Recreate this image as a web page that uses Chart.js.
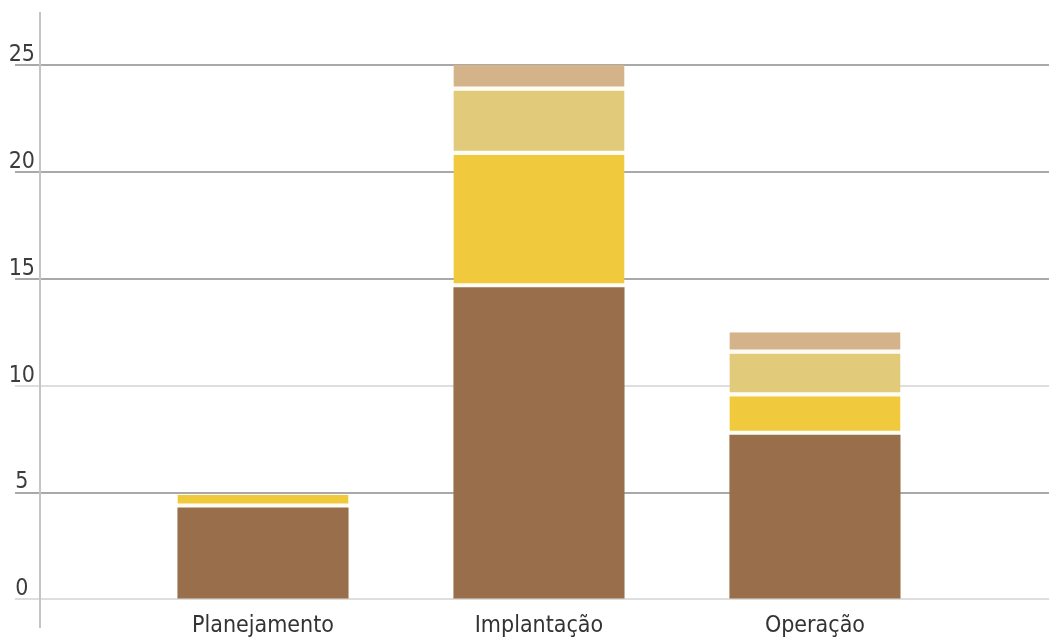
<!DOCTYPE html>
<html>
<head>
<meta charset="utf-8">
<script src="https://cdn.jsdelivr.net/npm/chart.js@4/dist/chart.umd.min.js"></script>
<style>
  html, body { margin: 0; padding: 0; background: #fff; }
  #wrap { width: 1049px; height: 640px; }
</style>
</head>
<body>
<div id="wrap"><canvas id="stackChart" width="1049" height="640"></canvas></div>
<script>
// Chart data
const categories = ["Planejamento", "Implantação", "Operação"];
const brownValues = [4.3, 14.6, 7.7];
const yellowValues = [0.6, 6.2, 1.8];
const khakiValues = [0, 3.0, 2.0];
const tanValues = [0, 1.2, 1.0];
const yTicks = [0, 5, 10, 15, 20, 25];

const FONT = "'Liberation Sans Narrow', 'DejaVu Sans Condensed', sans-serif";
const GAP = "#fffdf3";

/**
 * Turns a series into {x, y} points on the linear category scale
 */
const toPoints = (values) => values.map((v, i) => ({ x: i + 1, y: v }));

const segment = (label, values, color, gap) => ({
  label: label,
  data: toPoints(values),
  backgroundColor: color,
  borderColor: GAP,
  borderWidth: gap ? { top: 0, right: 0, left: 0, bottom: 4 } : 0,
  borderSkipped: false,
  barPercentage: 0.62,
  categoryPercentage: 1,
});

// lighter rules at 0 and 10, as in the source
const gridColor = (c) =>
  c.tick && (c.tick.value === 0 || c.tick.value === 10) ? "#dedede" : "#a9a9a9";

const ctx = document.getElementById("stackChart").getContext("2d");

new Chart(ctx, {
  type: "bar",
  data: {
    datasets: [
      segment("A", brownValues, "#986f4a", false),
      segment("B", yellowValues, "#f0c93c", true),
      segment("C", khakiValues, "#e1ca79", true),
      segment("D", tanValues, "#d4b38b", true),
    ],
  },
  options: {
    responsive: false,
    animation: false,
    layout: { padding: { top: 13, left: 0, right: 0, bottom: 0 } },
    scales: {
      x: {
        type: "linear",
        stacked: true,
        min: 0.192,
        max: 3.848,
        offset: false,
        grid: { display: false, drawTicks: false },
        border: { display: false },
        afterBuildTicks: (scale) => {
          scale.ticks = categories.map((c, i) => ({ value: i + 1 }));
        },
        afterFit: (scale) => {
          scale.height = 13;
        },
        ticks: {
          // mirror keeps the labels from being clipped to the thin axis box
          mirror: true,
          padding: -13,
          maxRotation: 0,
          autoSkip: false,
          color: "#333",
          font: { family: FONT, size: 23 },
          callback: (value) => categories[value - 1] || "",
        },
      },
      y: {
        stacked: true,
        min: -1.29,
        max: 27.43,
        grid: {
          drawTicks: true,
          tickLength: 25,
          lineWidth: 2,
          tickWidth: 2,
          color: gridColor,
          tickColor: gridColor,
        },
        border: { display: true, color: "#c4c4c4", width: 2 },
        afterBuildTicks: (scale) => {
          scale.ticks = yTicks.map((v) => ({ value: v }));
        },
        afterFit: (scale) => {
          scale.width = 40;
        },
        ticks: {
          includeBounds: false,
          crossAlign: "center",
          padding: -20,
          labelOffset: -10,
          color: "#3c3c3c",
          font: { family: FONT, size: 23 },
        },
      },
    },
    plugins: {
      legend: { display: false },
      tooltip: { enabled: false },
    },
  },
});
</script>
</body>
</html>
